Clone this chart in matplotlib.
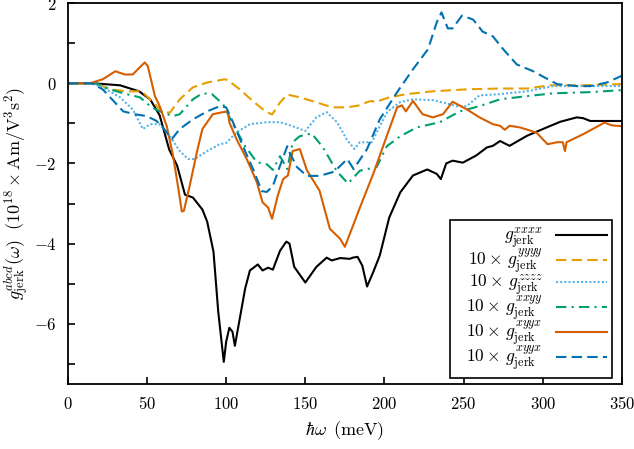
import matplotlib
matplotlib.use("Agg")
import matplotlib.pyplot as plt
import numpy as np
from matplotlib.ticker import FuncFormatter, MultipleLocator

plt.rcParams['mathtext.fontset'] = 'cm'
plt.rcParams['font.family'] = 'serif'
plt.rcParams['font.serif'] = ['DejaVu Serif']

# g_jerk^xxxx
xxxx_x = [0, 16, 33, 45, 52, 58, 64, 69, 74, 79, 85, 88, 92, 95, 98.5, 100, 102, 104, 105.5, 108.6,
          112, 115, 120, 123, 126.5, 129.5, 134, 138, 140, 143, 150, 157, 163.5, 166.7, 172, 178, 180,
          183, 186, 189, 193, 197, 203, 210, 218, 227, 233, 235.6, 239, 243, 249.5, 258, 264.7, 268.5,
          273, 279, 290, 302.5, 311, 321.5, 325.5, 330, 350]
xxxx_y = [0, 0, -0.05, -0.2, -0.4, -0.8, -1.65, -2.05, -2.78, -2.85, -3.15, -3.45, -4.2, -5.7, -6.95,
          -6.45, -6.1, -6.2, -6.55, -5.87, -5.12, -4.67, -4.52, -4.67, -4.6, -4.65, -4.18, -3.95, -4.0,
          -4.58, -4.97, -4.58, -4.35, -4.42, -4.36, -4.38, -4.35, -4.33, -4.55, -5.07, -4.7, -4.3,
          -3.35, -2.72, -2.3, -2.15, -2.26, -2.39, -2.0, -1.93, -1.98, -1.8, -1.6, -1.56, -1.44, -1.56,
          -1.31, -1.1, -0.96, -0.85, -0.87, -0.94, -0.94]

# 10 x g_jerk^yyyy
yyyy_x = [0, 18, 26.5, 37, 46.7, 54, 60, 64.5, 70.7, 79, 88, 99, 101, 108.6, 117, 124.5, 129, 134,
          138.6, 146.5, 155, 167, 176, 184.5, 189, 192, 194, 203, 214, 230.5, 252, 273, 290, 304.5,
          325.5, 350]
yyyy_y = [0, 0, -0.15, -0.2, -0.2, -0.48, -0.73, -0.73, -0.4, -0.1, 0.02, 0.1, 0.08, -0.15, -0.45,
          -0.69, -0.78, -0.48, -0.28, -0.35, -0.45, -0.6, -0.6, -0.55, -0.47, -0.44, -0.47, -0.35,
          -0.27, -0.2, -0.15, -0.13, -0.13, -0.05, -0.05, -0.02]

# 10 x g_jerk^zzzz
zzzz_x = [0, 15, 22, 33, 41, 47.4, 52, 58, 64.5, 70.7, 76, 80, 88, 96, 100, 106.7, 115, 125.7, 134,
          142, 150, 157, 163.5, 170, 176, 181, 184.5, 192, 197, 202, 210, 218, 230.5, 239, 245.6, 252,
          260, 273, 290, 306.5, 330, 350]
zzzz_y = [0, 0, -0.1, -0.35, -0.65, -1.14, -1.02, -1.02, -1.32, -1.69, -1.89, -1.89, -1.69, -1.52,
          -1.49, -1.22, -1.02, -0.97, -0.97, -1.07, -1.19, -0.85, -0.72, -0.97, -1.39, -1.64, -1.47,
          -1.47, -1.07, -0.7, -0.47, -0.4, -0.42, -0.5, -0.57, -0.57, -0.3, -0.27, -0.2, -0.07, -0.07,
          -0.07]

# 10 x g_jerk^xxyy
xxyy_x = [0, 18, 26.5, 37, 45.5, 53, 58, 66.4, 70.7, 79, 85, 91, 98, 104.3, 112, 119.4, 125.7, 129.5,
          134, 138.6, 142, 146.5, 154, 161, 170, 177, 184.5, 195, 201.5, 210, 220.5, 235, 247.6, 260,
          273, 290, 306.5, 330, 350]
xxyy_y = [0, 0, -0.15, -0.27, -0.35, -0.6, -0.7, -0.82, -0.77, -0.4, -0.25, -0.27, -0.52, -1.02,
          -1.57, -1.97, -2.02, -2.16, -1.82, -2.14, -1.47, -1.32, -1.25, -1.59, -2.2, -2.5, -2.18,
          -2.09, -1.57, -1.32, -1.1, -0.97, -0.7, -0.57, -0.4, -0.32, -0.25, -0.22, -0.17]

# 10 x g_jerk^xyyx (solid)
xyyx_x = [0, 14, 22, 30, 36, 41, 45.5, 48.6, 50.5, 55, 58, 62.5, 66.4, 69.5, 72, 73.3, 77, 81.5, 85,
          91.6, 98, 101, 102, 106.5, 113, 119.4, 123, 126.5, 129, 132.6, 136, 139, 142, 146.5, 151,
          159, 165.5, 172, 175, 184.5, 193, 201.5, 208, 211, 213.5, 218, 224, 230.5, 237, 243, 252,
          260, 268.5, 273, 276, 279, 285.5, 292, 296, 303, 309, 312.6, 314, 315, 325.5, 339, 343.6,
          350]
xyyx_y = [0, 0, 0.1, 0.3, 0.22, 0.22, 0.4, 0.52, 0.43, -0.32, -0.57, -1.07, -1.8, -2.55, -3.2, -3.18,
          -2.55, -1.72, -1.14, -0.77, -0.72, -0.7, -0.97, -1.39, -1.89, -2.47, -2.97, -3.1, -3.38,
          -2.8, -2.39, -2.3, -1.69, -1.64, -2.17, -2.68, -3.63, -3.88, -4.08, -3.1, -2.25, -1.31, -0.6,
          -0.55, -0.7, -0.44, -0.77, -0.85, -0.77, -0.46, -0.65, -0.85, -1.02, -1.06, -1.16, -1.06,
          -1.1, -1.18, -1.23, -1.52, -1.47, -1.47, -1.69, -1.47, -1.27, -0.98, -1.05, -1.07]

# 10 x g_jerk^xyyx (dashed)
xyyx2_x = [0, 15, 22, 35, 42, 50, 56, 60, 65.7, 70.7, 79, 88, 96, 100, 104.3, 110.6, 117, 122.5, 125.7,
           129.5, 134, 138.6, 140, 144.7, 151, 159, 167, 170, 176.5, 180.5, 189, 197, 208, 218, 227.5,
           233, 236, 240, 243, 249, 256, 262, 268.5, 275, 283.6, 294, 300, 309, 321.5, 330, 340.5, 350]
xyyx2_y = [0, 0, -0.15, -0.7, -0.77, -0.82, -0.94, -1.1, -1.39, -1.14, -0.9, -0.7, -0.57, -0.6, -0.97,
           -1.57, -2.14, -2.69, -2.71, -2.56, -2.06, -1.57, -1.72, -2.09, -2.31, -2.31, -2.22, -2.14,
           -1.89, -2.14, -1.64, -0.9, -0.22, 0.35, 0.85, 1.52, 1.77, 1.37, 1.37, 1.69, 1.59, 1.29,
           1.17, 0.85, 0.47, 0.3, 0.17, -0.02, -0.07, -0.07, 0.02, 0.19]

labels = [r'$g^{xxxx}_{\rm jerk}$', r'$\ \ 10\times\, g^{yyyy}_{\rm jerk}$',
          r'$\ \ 10\times\, g^{zzzz}_{\rm jerk}$', r'$\ \ 10\times\, g^{xxyy}_{\rm jerk}$',
          r'$\ \ 10\times\, g^{xyyx}_{\rm jerk}$', r'$\ \ 10\times\, g^{xyyx}_{\rm jerk}$']

fig = plt.figure(figsize=(6.34, 4.49), dpi=100)
ax = fig.add_axes([0.107, 0.145, 0.874, 0.848])

lw = 1.5
ax.plot(xxxx_x, xxxx_y, color='black', lw=lw, label=labels[0])
ax.plot(yyyy_x, yyyy_y, color='#E69F00', lw=lw, ls=(0, (5, 2.5)), label=labels[1])
ax.plot(zzzz_x, zzzz_y, color='#56B4E9', lw=lw, ls=(0, (1, 1)), label=labels[2])
ax.plot(xxyy_x, xxyy_y, color='#009E73', lw=lw, ls=(0, (5, 2.5, 1, 2.5)), label=labels[3])
ax.plot(xyyx_x, xyyx_y, color='#D55E00', lw=lw, label=labels[4])
ax.plot(xyyx2_x, xyyx2_y, color='#0072B2', lw=lw, ls=(0, (5, 2.5)), label=labels[5])

ax.set_xlim(0, 350)
ax.set_ylim(-7.5, 2)
ax.xaxis.set_major_locator(MultipleLocator(50))
ax.yaxis.set_major_locator(MultipleLocator(2))
ax.yaxis.set_minor_locator(MultipleLocator(1))
fmt = FuncFormatter(lambda v, p: r'$%d$' % round(v))
ax.xaxis.set_major_formatter(fmt)
ax.yaxis.set_major_formatter(fmt)
ax.tick_params(which='both', direction='in', length=5, width=1.2, labelsize=12, pad=8)
ax.tick_params(axis='x', pad=9)
for s in ax.spines.values():
    s.set_linewidth(1.3)

ax.set_xlabel(r'$\hbar\omega\ \, (\mathrm{meV})$', fontsize=13, labelpad=4)
ax.set_ylabel(r'$g^{abcd}_{\rm jerk}(\omega)\ \ (10^{18}\times\mathrm{Am/V^3s^2})$', fontsize=13,
              labelpad=2)

leg = ax.legend(loc='lower right', bbox_to_anchor=(0.982, 0.016), borderaxespad=0,
                markerfirst=False, fontsize=12.5, frameon=True, fancybox=False,
                edgecolor='black', framealpha=1, handlelength=2.9, labelspacing=-0.2,
                handletextpad=0.8, borderpad=0.3)
leg.get_frame().set_linewidth(1.2)

fig.savefig('out.png', dpi=100)
